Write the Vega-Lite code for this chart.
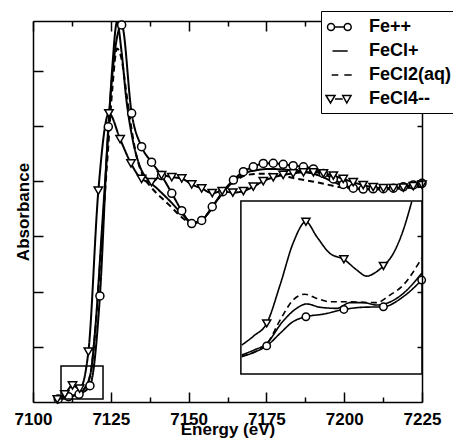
{
  "$schema": "https://vega.github.io/schema/vega-lite/v6.json",
  "width": 389,
  "height": 381,
  "autosize": {"type": "none"},
  "padding": {"left": 33, "top": 21, "right": 31, "bottom": 39},
  "config": {
    "view": {"stroke": null},
    "axis": {
      "domainColor": "black", "tickColor": "black", "domainWidth": 1.5, "tickWidth": 1.5,
      "labelFont": "Liberation Sans", "labelFontWeight": "bold", "labelFontSize": 17, "labelColor": "black",
      "titleFont": "Liberation Sans", "titleFontWeight": "bold", "titleFontSize": 17, "titleColor": "black",
      "grid": false
    }
  },
  "datasets": {
    "main": [
      {"series": "Fe++", "E": 7108.1, "A": 0.014}, {"series": "Fe++", "E": 7111.4, "A": 0.024}, {"series": "Fe++", "E": 7114.8, "A": 0.035}, {"series": "Fe++", "E": 7118.3, "A": 0.074}, {"series": "Fe++", "E": 7121.5, "A": 0.48}, {"series": "Fe++", "E": 7124.2, "A": 1.246}, {"series": "Fe++", "E": 7128.5, "A": 1.707}, {"series": "Fe++", "E": 7131.7, "A": 1.307}, {"series": "Fe++", "E": 7134.9, "A": 1.156}, {"series": "Fe++", "E": 7138.1, "A": 1.086}, {"series": "Fe++", "E": 7141.3, "A": 1.025}, {"series": "Fe++", "E": 7144.6, "A": 0.945}, {"series": "Fe++", "E": 7147.8, "A": 0.866}, {"series": "Fe++", "E": 7151.0, "A": 0.808}, {"series": "Fe++", "E": 7154.2, "A": 0.822}, {"series": "Fe++", "E": 7157.6, "A": 0.884}, {"series": "Fe++", "E": 7161.0, "A": 0.952}, {"series": "Fe++", "E": 7164.4, "A": 1.005}, {"series": "Fe++", "E": 7167.6, "A": 1.043}, {"series": "Fe++", "E": 7170.8, "A": 1.065}, {"series": "Fe++", "E": 7174.0, "A": 1.08}, {"series": "Fe++", "E": 7177.2, "A": 1.081}, {"series": "Fe++", "E": 7180.4, "A": 1.076}, {"series": "Fe++", "E": 7183.6, "A": 1.07}, {"series": "Fe++", "E": 7186.9, "A": 1.065}, {"series": "Fe++", "E": 7190.1, "A": 1.055}, {"series": "Fe++", "E": 7193.3, "A": 1.035}, {"series": "Fe++", "E": 7196.5, "A": 1.01}, {"series": "Fe++", "E": 7199.7, "A": 0.985}, {"series": "Fe++", "E": 7202.9, "A": 0.968}, {"series": "Fe++", "E": 7206.1, "A": 0.964}, {"series": "Fe++", "E": 7209.3, "A": 0.965}, {"series": "Fe++", "E": 7212.6, "A": 0.966}, {"series": "Fe++", "E": 7215.8, "A": 0.968}, {"series": "Fe++", "E": 7219.0, "A": 0.974}, {"series": "Fe++", "E": 7222.2, "A": 0.983}, {"series": "Fe++", "E": 7225.0, "A": 0.99},

      {"series": "FeCl+", "E": 7107.5, "A": 0.01}, {"series": "FeCl+", "E": 7111, "A": 0.025}, {"series": "FeCl+", "E": 7114, "A": 0.035}, {"series": "FeCl+", "E": 7116.5, "A": 0.06}, {"series": "FeCl+", "E": 7118.5, "A": 0.13}, {"series": "FeCl+", "E": 7120, "A": 0.33}, {"series": "FeCl+", "E": 7122, "A": 0.75}, {"series": "FeCl+", "E": 7124, "A": 1.18}, {"series": "FeCl+", "E": 7125.5, "A": 1.52}, {"series": "FeCl+", "E": 7127, "A": 1.72}, {"series": "FeCl+", "E": 7128.5, "A": 1.58}, {"series": "FeCl+", "E": 7130, "A": 1.37}, {"series": "FeCl+", "E": 7132, "A": 1.19}, {"series": "FeCl+", "E": 7134.4, "A": 1.065}, {"series": "FeCl+", "E": 7137, "A": 1.005}, {"series": "FeCl+", "E": 7140, "A": 0.965}, {"series": "FeCl+", "E": 7144, "A": 0.91}, {"series": "FeCl+", "E": 7148, "A": 0.85}, {"series": "FeCl+", "E": 7151, "A": 0.815}, {"series": "FeCl+", "E": 7153.5, "A": 0.815}, {"series": "FeCl+", "E": 7156, "A": 0.85}, {"series": "FeCl+", "E": 7159, "A": 0.91}, {"series": "FeCl+", "E": 7162, "A": 0.965}, {"series": "FeCl+", "E": 7165, "A": 1.005}, {"series": "FeCl+", "E": 7168, "A": 1.035}, {"series": "FeCl+", "E": 7172, "A": 1.05}, {"series": "FeCl+", "E": 7176, "A": 1.055}, {"series": "FeCl+", "E": 7180, "A": 1.053}, {"series": "FeCl+", "E": 7184, "A": 1.048}, {"series": "FeCl+", "E": 7188, "A": 1.04}, {"series": "FeCl+", "E": 7192, "A": 1.025}, {"series": "FeCl+", "E": 7196, "A": 1.0}, {"series": "FeCl+", "E": 7200, "A": 0.978}, {"series": "FeCl+", "E": 7204, "A": 0.967}, {"series": "FeCl+", "E": 7208, "A": 0.963}, {"series": "FeCl+", "E": 7212, "A": 0.964}, {"series": "FeCl+", "E": 7216, "A": 0.967}, {"series": "FeCl+", "E": 7220, "A": 0.973}, {"series": "FeCl+", "E": 7225, "A": 0.982},

      {"series": "FeCl2(aq)", "E": 7107.5, "A": 0.01}, {"series": "FeCl2(aq)", "E": 7111, "A": 0.025}, {"series": "FeCl2(aq)", "E": 7114, "A": 0.035}, {"series": "FeCl2(aq)", "E": 7116.5, "A": 0.06}, {"series": "FeCl2(aq)", "E": 7118.5, "A": 0.13}, {"series": "FeCl2(aq)", "E": 7120, "A": 0.32}, {"series": "FeCl2(aq)", "E": 7122, "A": 0.72}, {"series": "FeCl2(aq)", "E": 7124, "A": 1.12}, {"series": "FeCl2(aq)", "E": 7125.5, "A": 1.42}, {"series": "FeCl2(aq)", "E": 7127, "A": 1.6}, {"series": "FeCl2(aq)", "E": 7128.5, "A": 1.55}, {"series": "FeCl2(aq)", "E": 7130, "A": 1.4}, {"series": "FeCl2(aq)", "E": 7131.5, "A": 1.25}, {"series": "FeCl2(aq)", "E": 7133, "A": 1.13}, {"series": "FeCl2(aq)", "E": 7135, "A": 1.035}, {"series": "FeCl2(aq)", "E": 7137.5, "A": 0.98}, {"series": "FeCl2(aq)", "E": 7139.7, "A": 0.945}, {"series": "FeCl2(aq)", "E": 7142, "A": 0.915}, {"series": "FeCl2(aq)", "E": 7145, "A": 0.875}, {"series": "FeCl2(aq)", "E": 7147.5, "A": 0.84}, {"series": "FeCl2(aq)", "E": 7150.4, "A": 0.815}, {"series": "FeCl2(aq)", "E": 7153, "A": 0.815}, {"series": "FeCl2(aq)", "E": 7156, "A": 0.85}, {"series": "FeCl2(aq)", "E": 7159, "A": 0.91}, {"series": "FeCl2(aq)", "E": 7162, "A": 0.965}, {"series": "FeCl2(aq)", "E": 7165, "A": 1.0}, {"series": "FeCl2(aq)", "E": 7168, "A": 1.025}, {"series": "FeCl2(aq)", "E": 7172, "A": 1.033}, {"series": "FeCl2(aq)", "E": 7176, "A": 1.033}, {"series": "FeCl2(aq)", "E": 7180, "A": 1.025}, {"series": "FeCl2(aq)", "E": 7184, "A": 1.013}, {"series": "FeCl2(aq)", "E": 7188, "A": 1.003}, {"series": "FeCl2(aq)", "E": 7192, "A": 0.993}, {"series": "FeCl2(aq)", "E": 7196, "A": 0.98}, {"series": "FeCl2(aq)", "E": 7200, "A": 0.97}, {"series": "FeCl2(aq)", "E": 7205, "A": 0.965}, {"series": "FeCl2(aq)", "E": 7210, "A": 0.963}, {"series": "FeCl2(aq)", "E": 7215, "A": 0.964}, {"series": "FeCl2(aq)", "E": 7220, "A": 0.968}, {"series": "FeCl2(aq)", "E": 7225, "A": 0.975},

      {"series": "FeCl4--", "E": 7107.8, "A": 0.012}, {"series": "FeCl4--", "E": 7110.2, "A": 0.035}, {"series": "FeCl4--", "E": 7112.7, "A": 0.075}, {"series": "FeCl4--", "E": 7115.0, "A": 0.06}, {"series": "FeCl4--", "E": 7117.8, "A": 0.228}, {"series": "FeCl4--", "E": 7121.0, "A": 0.957}, {"series": "FeCl4--", "E": 7124.4, "A": 1.307}, {"series": "FeCl4--", "E": 7128.0, "A": 1.19}, {"series": "FeCl4--", "E": 7131.5, "A": 1.08}, {"series": "FeCl4--", "E": 7134.9, "A": 1.01}, {"series": "FeCl4--", "E": 7138.1, "A": 0.995}, {"series": "FeCl4--", "E": 7141.3, "A": 1.027}, {"series": "FeCl4--", "E": 7144.6, "A": 1.018}, {"series": "FeCl4--", "E": 7147.8, "A": 1.012}, {"series": "FeCl4--", "E": 7151.0, "A": 0.985}, {"series": "FeCl4--", "E": 7154.2, "A": 0.967}, {"series": "FeCl4--", "E": 7157.6, "A": 0.946}, {"series": "FeCl4--", "E": 7160.8, "A": 0.955}, {"series": "FeCl4--", "E": 7164.2, "A": 0.948}, {"series": "FeCl4--", "E": 7167.6, "A": 0.955}, {"series": "FeCl4--", "E": 7170.8, "A": 0.975}, {"series": "FeCl4--", "E": 7174.0, "A": 1.0}, {"series": "FeCl4--", "E": 7177.2, "A": 1.017}, {"series": "FeCl4--", "E": 7180.4, "A": 1.028}, {"series": "FeCl4--", "E": 7183.6, "A": 1.035}, {"series": "FeCl4--", "E": 7186.9, "A": 1.04}, {"series": "FeCl4--", "E": 7190.1, "A": 1.04}, {"series": "FeCl4--", "E": 7193.3, "A": 1.035}, {"series": "FeCl4--", "E": 7196.5, "A": 1.025}, {"series": "FeCl4--", "E": 7199.7, "A": 1.01}, {"series": "FeCl4--", "E": 7202.9, "A": 0.995}, {"series": "FeCl4--", "E": 7206.1, "A": 0.982}, {"series": "FeCl4--", "E": 7209.3, "A": 0.973}, {"series": "FeCl4--", "E": 7212.6, "A": 0.968}, {"series": "FeCl4--", "E": 7215.8, "A": 0.968}, {"series": "FeCl4--", "E": 7219.0, "A": 0.971}, {"series": "FeCl4--", "E": 7222.2, "A": 0.977}, {"series": "FeCl4--", "E": 7225.0, "A": 0.984}
    ],
    "inset": [
      {"series": "Fe++", "E": 7167.1, "A": 0.205, "marker": false}, {"series": "Fe++", "E": 7171, "A": 0.225, "marker": false}, {"series": "Fe++", "E": 7175.1, "A": 0.254, "marker": true}, {"series": "Fe++", "E": 7179.4, "A": 0.311, "marker": false}, {"series": "Fe++", "E": 7183.6, "A": 0.364, "marker": false}, {"series": "Fe++", "E": 7187.7, "A": 0.386, "marker": true}, {"series": "Fe++", "E": 7193.3, "A": 0.398, "marker": false}, {"series": "Fe++", "E": 7199.9, "A": 0.419, "marker": true}, {"series": "Fe++", "E": 7206.1, "A": 0.429, "marker": false}, {"series": "Fe++", "E": 7212.6, "A": 0.431, "marker": true}, {"series": "Fe++", "E": 7219.0, "A": 0.477, "marker": false}, {"series": "Fe++", "E": 7224.9, "A": 0.552, "marker": true},

      {"series": "FeCl+", "E": 7167.1, "A": 0.213, "marker": false}, {"series": "FeCl+", "E": 7171, "A": 0.235, "marker": false}, {"series": "FeCl+", "E": 7175.1, "A": 0.265, "marker": false}, {"series": "FeCl+", "E": 7180, "A": 0.36, "marker": false}, {"series": "FeCl+", "E": 7184.7, "A": 0.424, "marker": false}, {"series": "FeCl+", "E": 7187.9, "A": 0.444, "marker": false}, {"series": "FeCl+", "E": 7192.2, "A": 0.429, "marker": false}, {"series": "FeCl+", "E": 7197.6, "A": 0.424, "marker": false}, {"series": "FeCl+", "E": 7201.9, "A": 0.45, "marker": false}, {"series": "FeCl+", "E": 7206.1, "A": 0.45, "marker": false}, {"series": "FeCl+", "E": 7210.4, "A": 0.439, "marker": false}, {"series": "FeCl+", "E": 7213.7, "A": 0.447, "marker": false}, {"series": "FeCl+", "E": 7219, "A": 0.492, "marker": false}, {"series": "FeCl+", "E": 7224.9, "A": 0.583, "marker": false},

      {"series": "FeCl2(aq)", "E": 7167.1, "A": 0.208, "marker": false}, {"series": "FeCl2(aq)", "E": 7175.1, "A": 0.263, "marker": false}, {"series": "FeCl2(aq)", "E": 7179.4, "A": 0.371, "marker": false}, {"series": "FeCl2(aq)", "E": 7183.6, "A": 0.462, "marker": false}, {"series": "FeCl2(aq)", "E": 7187.4, "A": 0.488, "marker": false}, {"series": "FeCl2(aq)", "E": 7191.2, "A": 0.469, "marker": false}, {"series": "FeCl2(aq)", "E": 7195.4, "A": 0.454, "marker": false}, {"series": "FeCl2(aq)", "E": 7200.8, "A": 0.454, "marker": false}, {"series": "FeCl2(aq)", "E": 7206.1, "A": 0.451, "marker": false}, {"series": "FeCl2(aq)", "E": 7210.4, "A": 0.45, "marker": false}, {"series": "FeCl2(aq)", "E": 7214.7, "A": 0.484, "marker": false}, {"series": "FeCl2(aq)", "E": 7219, "A": 0.53, "marker": false}, {"series": "FeCl2(aq)", "E": 7224.9, "A": 0.651, "marker": false},

      {"series": "FeCl4--", "E": 7167.1, "A": 0.258, "marker": false}, {"series": "FeCl4--", "E": 7171, "A": 0.3, "marker": false}, {"series": "FeCl4--", "E": 7175.1, "A": 0.356, "marker": true}, {"series": "FeCl4--", "E": 7179.4, "A": 0.53, "marker": false}, {"series": "FeCl4--", "E": 7183.6, "A": 0.72, "marker": false}, {"series": "FeCl4--", "E": 7187.7, "A": 0.816, "marker": true}, {"series": "FeCl4--", "E": 7191.2, "A": 0.748, "marker": false}, {"series": "FeCl4--", "E": 7195.4, "A": 0.673, "marker": false}, {"series": "FeCl4--", "E": 7199.9, "A": 0.646, "marker": true}, {"series": "FeCl4--", "E": 7204.0, "A": 0.598, "marker": false}, {"series": "FeCl4--", "E": 7207.2, "A": 0.57, "marker": false}, {"series": "FeCl4--", "E": 7210.4, "A": 0.59, "marker": false}, {"series": "FeCl4--", "E": 7212.6, "A": 0.616, "marker": true}, {"series": "FeCl4--", "E": 7215.8, "A": 0.673, "marker": false}, {"series": "FeCl4--", "E": 7219.0, "A": 0.779, "marker": false}, {"series": "FeCl4--", "E": 7221.7, "A": 0.907, "marker": false}
    ],
    "boxes": [
      {"box": "inset", "E1": 7166.8, "E2": 7225, "A1": 0.127, "A2": 0.91},
      {"box": "zoom", "E1": 7109, "E2": 7122.5, "A1": 0.014, "A2": 0.163}
    ],
    "legendItems": [
      {"label": "Fe++", "E": 7200, "A": 1.5}, {"label": "FeCl+", "E": 7200, "A": 1.5}, {"label": "FeCl2(aq)", "E": 7200, "A": 1.5}, {"label": "FeCl4--", "E": 7200, "A": 1.5}
    ]
  },
  "resolve": {"axis": {"x": "independent", "y": "independent"}},
  "layer": [
    {
      "data": {"name": "main"},
      "mark": {"type": "line", "interpolate": "monotone", "strokeWidth": 2, "color": "black"},
      "encoding": {
        "x": {"field": "E", "type": "quantitative", "scale": {"domain": [7100, 7225], "nice": false, "zero": false},
          "axis": {"orient": "bottom", "values": [7100, 7125, 7150, 7175, 7200, 7225], "format": "d", "ticks": false, "labelPadding": 9, "labelFlush": false, "labelOverlap": false, "title": "Energy (eV)", "titlePadding": -6}},
        "y": {"field": "A", "type": "quantitative", "scale": {"domain": [0, 1.725], "nice": false, "zero": false},
          "axis": {"orient": "left", "values": [0.25, 0.5, 0.75, 1, 1.25, 1.5], "labels": false, "tickSize": -10, "title": "Absorbance", "titlePadding": 0}},
        "detail": {"field": "series"},
        "strokeDash": {"field": "series", "scale": {"range": [[1, 0], [1, 0], [6, 4], [1, 0]]}, "legend": null}
      }
    },
    {
      "data": {"name": "main"},
      "transform": [{"filter": "datum.series === 'Fe++'"}],
      "mark": {"type": "point", "shape": "circle", "size": 64, "filled": false, "fill": "white", "stroke": "black", "strokeWidth": 1.5, "opacity": 1},
      "encoding": {
        "x": {"field": "E", "type": "quantitative", "axis": {"orient": "bottom", "values": [7100, 7125, 7150, 7175, 7200, 7225], "labels": false, "domain": false, "tickSize": -10, "title": null}},
        "y": {"field": "A", "type": "quantitative", "axis": {"orient": "right", "values": [0.25, 0.5, 0.75, 1, 1.25, 1.5], "labels": false, "tickSize": -5, "title": null, "zindex": 1}}
      }
    },
    {
      "data": {"name": "main"},
      "transform": [{"filter": "datum.series === 'FeCl4--'"}],
      "mark": {"type": "point", "shape": "triangle-down", "size": 70, "filled": false, "fill": "white", "stroke": "black", "strokeWidth": 1.5, "opacity": 1},
      "encoding": {
        "x": {"field": "E", "type": "quantitative", "axis": {"orient": "bottom", "values": [7112.5, 7137.5, 7162.5, 7187.5, 7212.5], "labels": false, "domain": false, "tickSize": -5, "title": null}},
        "y": {"field": "A", "type": "quantitative", "axis": null}
      }
    },
    {
      "data": {"name": "boxes"},
      "transform": [{"filter": "datum.box === 'inset'"}],
      "mark": {"type": "rect", "fill": "white", "stroke": "black", "strokeWidth": 1.5},
      "encoding": {
        "x": {"field": "E1", "type": "quantitative", "axis": {"orient": "top", "values": [7100, 7125, 7150, 7175, 7200, 7225], "labels": false, "tickSize": -10, "title": null}},
        "x2": {"field": "E2"},
        "y": {"field": "A1", "type": "quantitative", "axis": null},
        "y2": {"field": "A2"}
      }
    },
    {
      "data": {"name": "boxes"},
      "transform": [{"filter": "datum.box === 'zoom'"}],
      "mark": {"type": "rect", "fill": null, "fillOpacity": 0, "stroke": "black", "strokeWidth": 1.5},
      "encoding": {
        "x": {"field": "E1", "type": "quantitative", "axis": {"orient": "top", "values": [7112.5, 7137.5, 7162.5, 7187.5, 7212.5], "labels": false, "domain": false, "tickSize": -5, "title": null}},
        "x2": {"field": "E2"},
        "y": {"field": "A1", "type": "quantitative", "axis": null},
        "y2": {"field": "A2"}
      }
    },
    {
      "data": {"name": "inset"},
      "mark": {"type": "line", "interpolate": "monotone", "strokeWidth": 1.6, "color": "black"},
      "encoding": {
        "x": {"field": "E", "type": "quantitative", "axis": null},
        "y": {"field": "A", "type": "quantitative", "axis": null},
        "detail": {"field": "series"},
        "strokeDash": {"field": "series", "scale": {"range": [[1, 0], [1, 0], [6, 4], [1, 0]]}, "legend": null}
      }
    },
    {
      "data": {"name": "inset"},
      "transform": [{"filter": "datum.marker && datum.series === 'Fe++'"}],
      "mark": {"type": "point", "shape": "circle", "size": 55, "filled": false, "fill": "white", "stroke": "black", "strokeWidth": 1.5, "opacity": 1},
      "encoding": {
        "x": {"field": "E", "type": "quantitative", "axis": null},
        "y": {"field": "A", "type": "quantitative", "axis": null}
      }
    },
    {
      "data": {"name": "inset"},
      "transform": [{"filter": "datum.marker && datum.series === 'FeCl4--'"}],
      "mark": {"type": "point", "shape": "triangle-down", "size": 65, "filled": false, "fill": "white", "stroke": "black", "strokeWidth": 1.5, "opacity": 1},
      "encoding": {
        "x": {"field": "E", "type": "quantitative", "axis": null},
        "y": {"field": "A", "type": "quantitative", "axis": null}
      }
    },
    {
      "data": {"name": "legendItems"},
      "mark": {"type": "point", "filled": false, "stroke": "black", "strokeWidth": 1.5, "size": 400, "opacity": 0},
      "encoding": {
        "x": {"field": "E", "type": "quantitative", "axis": null},
        "y": {"field": "A", "type": "quantitative", "axis": null},
        "shape": {
          "field": "label", "type": "nominal",
          "scale": {
            "domain": ["Fe++", "FeCl+", "FeCl2(aq)", "FeCl4--"],
            "range": [
              "M-0.95,0A0.35,0.35,0,1,0,-0.25,0A0.35,0.35,0,1,0,-0.95,0ZM-0.25,0L0.72,0M0.72,0A0.35,0.35,0,1,0,1.42,0A0.35,0.35,0,1,0,0.72,0Z",
              "M-0.45,0L1.07,0",
              "M-0.53,0L0.13,0M0.73,0L1.47,0",
              "M-1.1,-0.35L-0.2,-0.35L-0.65,0.4ZM-0.2,0L0.57,0M0.57,-0.35L1.4,-0.35L0.98,0.4Z"
            ]
          },
          "legend": {
            "orient": "none", "legendX": 288, "legendY": -10, "title": null, "zindex": 2,
            "fillColor": "white", "strokeColor": "black", "padding": 5,
            "symbolSize": 400, "symbolStrokeWidth": 1.5, "symbolStrokeColor": "black", "symbolFillColor": "white", "symbolOpacity": 1,
            "labelFont": "Liberation Sans", "labelFontWeight": "bold", "labelFontSize": 18, "labelColor": "black",
            "labelOffset": 21, "rowPadding": 4
          }
        }
      }
    }
  ]
}
